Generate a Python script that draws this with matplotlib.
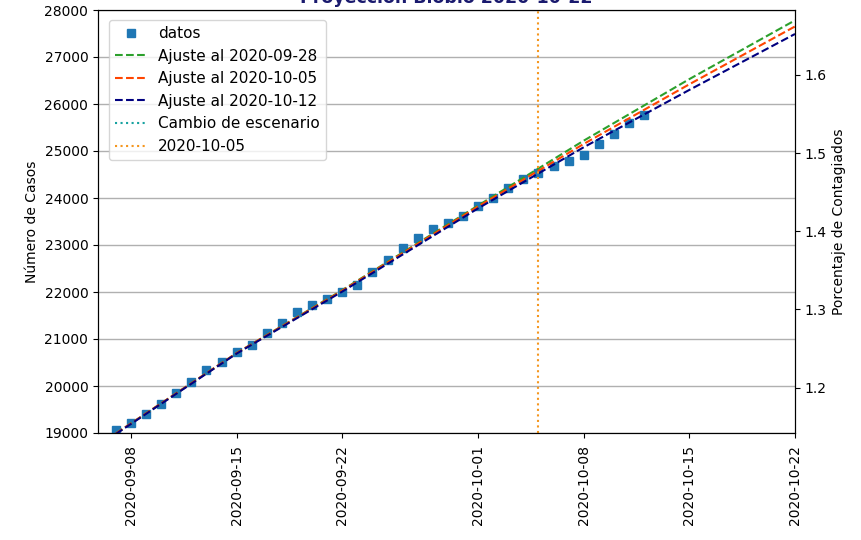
import matplotlib
matplotlib.use("Agg")
import matplotlib.pyplot as plt
import matplotlib.dates as mdates
import numpy as np
import pandas as pd

# ---- data ----
fechas_datos = pd.date_range("2020-09-07", "2020-10-12", freq="D")
casos = [19064, 19213, 19404, 19617, 19851, 20085, 20330, 20511, 20723, 20872,
         21128, 21340, 21570, 21723, 21851, 22000, 22140, 22426, 22681, 22936,
         23149, 23340, 23468, 23617, 23830, 24000, 24213, 24400, 24532, 24681,
         24787, 24925, 25149, 25362, 25596, 25766]

fechas_ajuste = pd.to_datetime(["2020-09-07", "2020-09-15", "2020-09-22", "2020-10-01",
                                "2020-10-08", "2020-10-15", "2020-10-22"])
ajuste_0928 = [18990, 20700, 22040, 23840, 25220, 26530, 27780]
ajuste_1005 = [18990, 20700, 22030, 23820, 25150, 26420, 27650]
ajuste_1012 = [18980, 20690, 22010, 23780, 25080, 26300, 27490]

fecha_corte = pd.Timestamp("2020-10-05")
poblacion = 1663696

tick_fechas = pd.to_datetime(["2020-09-08", "2020-09-15", "2020-09-22", "2020-10-01",
                              "2020-10-08", "2020-10-15", "2020-10-22"])
ylim = (19000, 28000)

# ---- figure ----
fig = plt.figure(figsize=(8.62, 5.40), dpi=100)
ax = fig.add_axes([98/862, 1-433/540, (795-98)/862, (433-10)/540])

ax.plot(fechas_datos, casos, "s", color="#1f77b4", markersize=5.5, label="datos")
ax.plot(fechas_ajuste, ajuste_0928, "--", color="#2ca02c", lw=1.5, label="Ajuste al 2020-09-28")
ax.plot(fechas_ajuste, ajuste_1005, "--", color="orangered", lw=1.5, label="Ajuste al 2020-10-05")
ax.plot(fechas_ajuste, ajuste_1012, "--", color="navy", lw=1.5, label="Ajuste al 2020-10-12")
ax.plot([], [], ":", color="#17a2a0", lw=1.5, label="Cambio de escenario")
ax.axvline(fecha_corte, ls=":", color="#f5961e", lw=1.5, label="2020-10-05")

ax.set_xlim(pd.Timestamp("2020-09-05 19:30"), pd.Timestamp("2020-10-22"))
ax.set_ylim(*ylim)
ax.set_yticks(np.arange(19000, 28001, 1000))
ax.set_xticks(tick_fechas)
ax.xaxis.set_major_formatter(mdates.DateFormatter("%Y-%m-%d"))
ax.tick_params(axis="x", pad=5)
plt.setp(ax.get_xticklabels(), rotation=90)
ax.yaxis.grid(True, color="#b0b0b0", lw=1)
ax.set_axisbelow(True)
ax.set_ylabel("Número de Casos")
ax.legend(loc="upper left", fontsize=11, bbox_to_anchor=(0.005, 0.995))
ax.set_title("Proyección Biobío 2020-10-22", color="#1a1a6e", fontweight="bold",
             fontsize=12.5, pad=5)

ax2 = ax.twinx()
ax2.set_ylim(ylim[0] / poblacion * 100, ylim[1] / poblacion * 100)
ax2.set_yticks([1.2, 1.3, 1.4, 1.5, 1.6])
ax2.set_ylabel("Porcentaje de Contagiados")

fig.savefig("out.png", dpi=100)
